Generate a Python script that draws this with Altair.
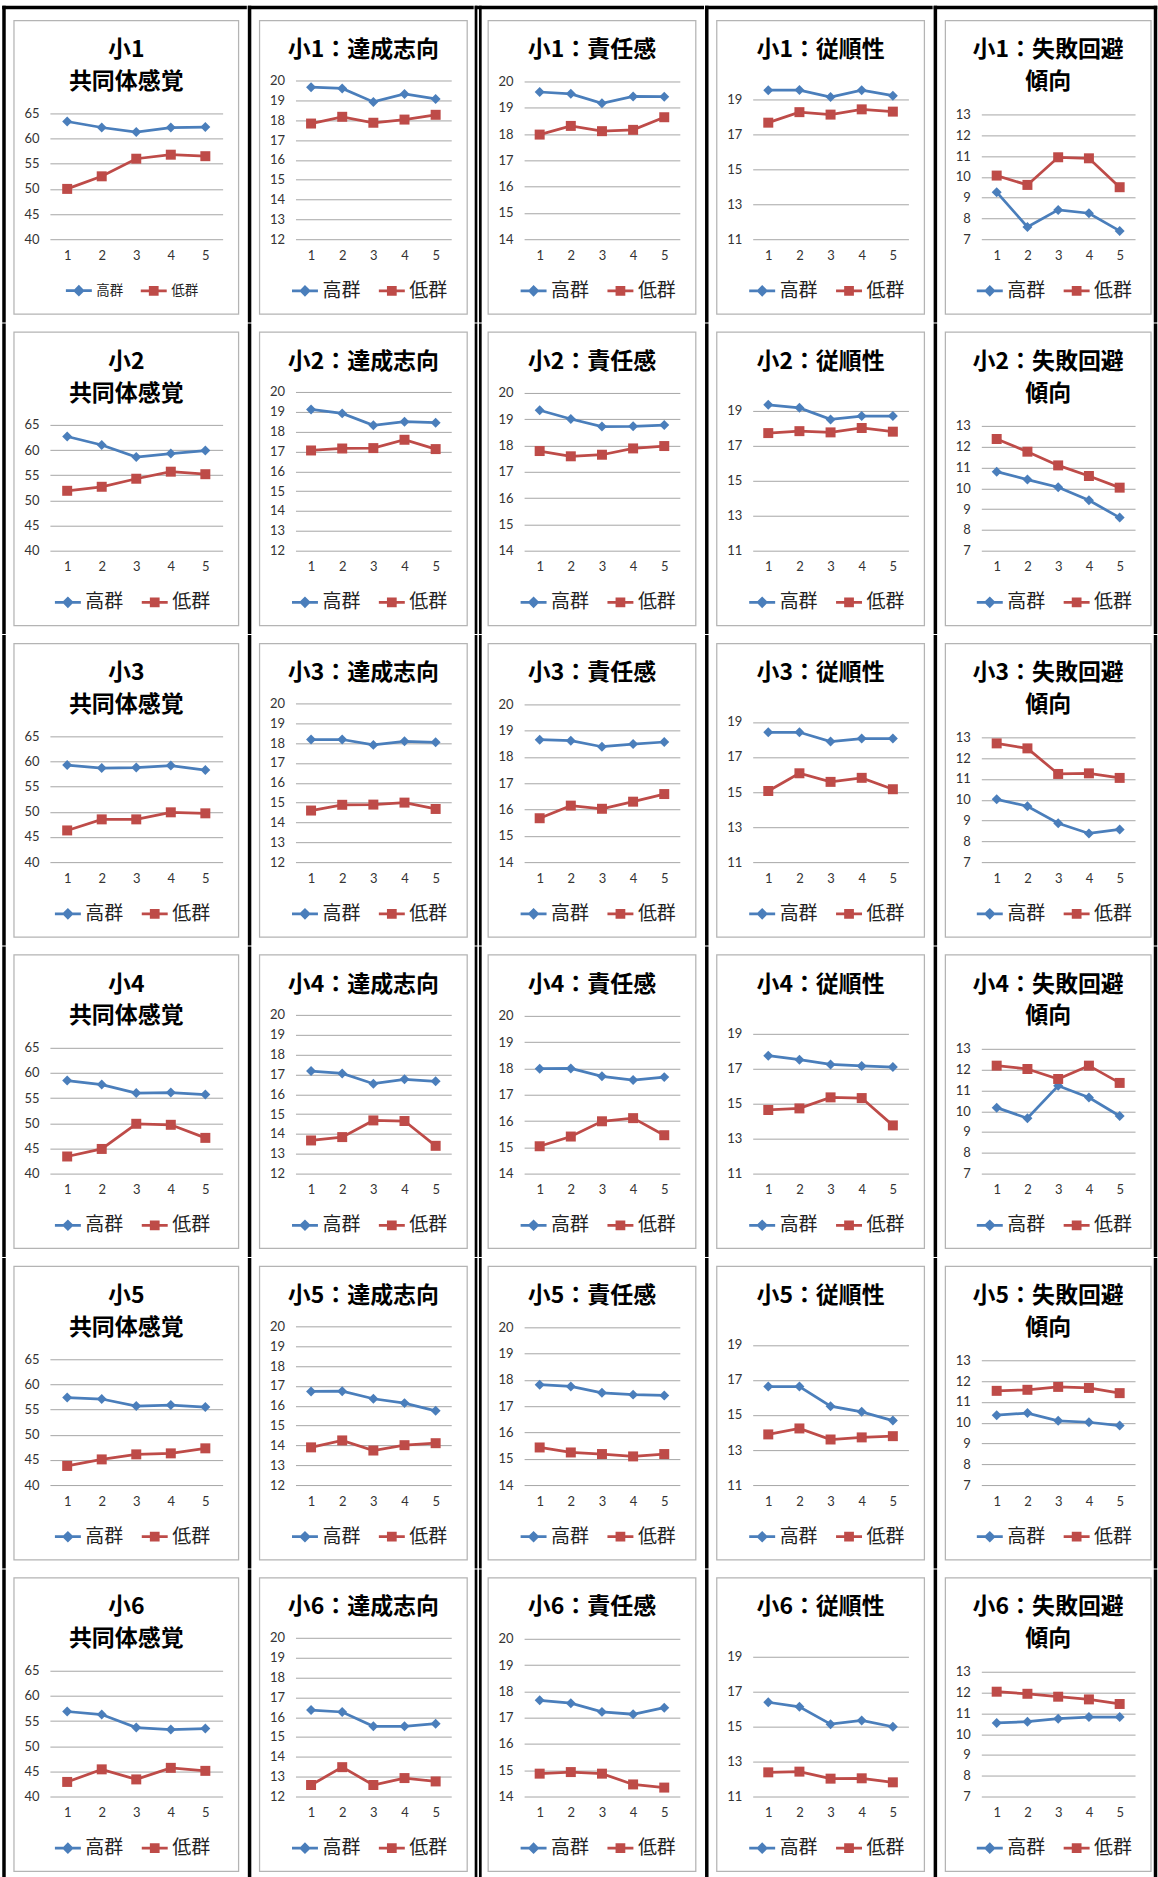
import altair as alt
import pandas as pd

GRADES = ["小1", "小2", "小3", "小4", "小5", "小6"]
WAVES = ["1", "2", "3", "4", "5"]
GROUPS = ["高群", "低群"]
COLORS = ["#4a7ebb", "#be4b48"]

# rows: 小1..小6, columns: waves 1..5
KYODO_HIGH = [
    [63.4, 62.2, 61.3, 62.2, 62.3],
    [62.7, 61.0, 58.6, 59.3, 59.9],
    [59.3, 58.7, 58.8, 59.2, 58.3],
    [58.5, 57.7, 56.0, 56.1, 55.7],
    [57.4, 57.1, 55.7, 55.9, 55.5],
    [56.9, 56.3, 53.7, 53.3, 53.5],
]
KYODO_LOW = [
    [50.0, 52.5, 56.0, 56.8, 56.5],
    [51.9, 52.7, 54.3, 55.7, 55.2],
    [46.3, 48.5, 48.5, 49.9, 49.7],
    [43.4, 44.9, 49.9, 49.7, 47.1],
    [43.8, 45.1, 46.1, 46.3, 47.3],
    [42.9, 45.4, 43.4, 45.7, 45.1],
]
TASSEI_HIGH = [
    [19.66, 19.60, 18.92, 19.32, 19.07],
    [19.12, 18.92, 18.32, 18.50, 18.45],
    [18.18, 18.18, 17.91, 18.09, 18.04],
    [17.17, 17.05, 16.53, 16.75, 16.65],
    [16.72, 16.73, 16.35, 16.13, 15.74],
    [16.36, 16.26, 15.54, 15.54, 15.67],
]
TASSEI_LOW = [
    [17.83, 18.17, 17.87, 18.03, 18.27],
    [17.05, 17.15, 17.17, 17.59, 17.12],
    [14.60, 14.89, 14.90, 15.00, 14.68],
    [13.67, 13.84, 14.68, 14.65, 13.40],
    [13.90, 14.25, 13.74, 14.01, 14.11],
    [12.58, 13.48, 12.58, 12.93, 12.76],
]
SEKININ_HIGH = [
    [19.60, 19.53, 19.17, 19.43, 19.42],
    [19.34, 19.01, 18.72, 18.73, 18.78],
    [18.66, 18.62, 18.39, 18.49, 18.57],
    [17.99, 18.00, 17.70, 17.56, 17.67],
    [17.82, 17.75, 17.51, 17.44, 17.41],
    [17.66, 17.55, 17.22, 17.13, 17.38],
]
SEKININ_LOW = [
    [17.98, 18.31, 18.11, 18.16, 18.64],
    [17.79, 17.59, 17.65, 17.89, 17.98],
    [15.67, 16.15, 16.03, 16.30, 16.59],
    [15.04, 15.41, 15.99, 16.11, 15.46],
    [15.43, 15.24, 15.18, 15.09, 15.18],
    [14.87, 14.93, 14.87, 14.46, 14.34],
]
JUJUN_HIGH = [
    [19.50, 19.51, 19.11, 19.50, 19.19],
    [19.32, 19.15, 18.49, 18.68, 18.68],
    [18.41, 18.41, 17.88, 18.05, 18.05],
    [17.73, 17.50, 17.23, 17.14, 17.08],
    [16.62, 16.62, 15.50, 15.18, 14.68],
    [16.38, 16.12, 15.13, 15.34, 14.98],
]
JUJUN_LOW = [
    [17.65, 18.25, 18.11, 18.41, 18.28],
    [17.71, 17.82, 17.75, 18.00, 17.79],
    [15.06, 16.07, 15.58, 15.81, 15.16],
    [14.63, 14.72, 15.35, 15.31, 13.75],
    [13.89, 14.23, 13.60, 13.72, 13.79],
    [12.38, 12.42, 12.02, 12.04, 11.81],
]
SHIPPAI_HIGH = [
    [9.26, 7.59, 8.41, 8.25, 7.40],
    [10.80, 10.42, 10.05, 9.42, 8.59],
    [10.02, 9.69, 8.87, 8.38, 8.57],
    [10.17, 9.66, 11.22, 10.66, 9.77],
    [10.36, 10.46, 10.09, 10.02, 9.86],
    [10.54, 10.60, 10.74, 10.82, 10.82],
]
SHIPPAI_LOW = [
    [10.06, 9.61, 10.94, 10.89, 9.50],
    [12.37, 11.76, 11.10, 10.59, 10.03],
    [12.71, 12.47, 11.24, 11.27, 11.05],
    [12.19, 12.03, 11.55, 12.19, 11.36],
    [11.53, 11.58, 11.72, 11.67, 11.42],
    [12.04, 11.94, 11.80, 11.67, 11.45],
]

# "top" is where the highest tick sits, measured from the frame top
MEASURES = [
    {"title": lambda g: [g, "共同体感覚"], "high": KYODO_HIGH, "low": KYODO_LOW,
     "domain": [40, 65], "ticks": [40, 45, 50, 55, 60, 65], "top": 93},
    {"title": lambda g: g + "：達成志向", "high": TASSEI_HIGH, "low": TASSEI_LOW,
     "domain": [12, 20], "ticks": list(range(12, 21)), "top": 60},
    {"title": lambda g: g + "：責任感", "high": SEKININ_HIGH, "low": SEKININ_LOW,
     "domain": [14, 20], "ticks": list(range(14, 21)), "top": 61},
    {"title": lambda g: g + "：従順性", "high": JUJUN_HIGH, "low": JUJUN_LOW,
     "domain": [11, 20], "ticks": [11, 13, 15, 17, 19], "top": 61},
    {"title": lambda g: [g + "：失敗回避", "傾向"], "high": SHIPPAI_HIGH, "low": SHIPPAI_LOW,
     "domain": [7, 13], "ticks": list(range(7, 14)), "top": 94},
]

# panel geometry (pixels)
FRAME_W = [225, 208, 208, 208, 206]
PLOT_TOP = 60          # plot area top, same in every panel so the rows line up
FRAME_H = 294
PLOT_BOTTOM = 219
INSET_L = 36
INSET_R = 16
GAP_L = 10
GAP_R = [10, 10, 10, 10, 4.5]
RULE_W = 3.5
ROW_EXT = 8.5
TOP_LINE = 13
TITLE_Y = 28          # centre of the first title line below the frame top
TITLE_LINE = 32
DOUBLE_RULE_COL = 2   # this column's left divider is drawn as a double line

CJK = "Noto Sans CJK JP"
FRAME_COLOR = "#b4b4b4"
GRID_COLOR = "#a6a6a6"

# legend symbols: a short line with the series marker on it
LEGEND_SHAPES = [
    "M-1,0H1M-0.3,0L0,-0.3L0.3,0L0,0.3Z",
    "M-1,0H1M-0.27,-0.27H0.27V0.27H-0.27Z",
]


def y_domain(m):
    """Stretch the domain upward so the tick range fills [m['top'], PLOT_BOTTOM]."""
    lo, hi = m["domain"]
    per_px = (hi - lo) / (PLOT_BOTTOM - m["top"])
    return [lo, hi + (m["top"] - PLOT_TOP) * per_px]


def bar(one, x1, x2, y1, y2):
    return alt.Chart(one).mark_rect(color="black").encode(
        x=alt.value(x1), x2=alt.value(x2), y=alt.value(y1), y2=alt.value(y2))


def cell(r, c):
    m = MEASURES[c]
    fw = FRAME_W[c]
    top = PLOT_TOP
    w = fw - INSET_L - INSET_R
    h = PLOT_BOTTOM - top

    df = pd.DataFrame({
        "wave": WAVES * 2,
        "group": [GROUPS[0]] * len(WAVES) + [GROUPS[1]] * len(WAVES),
        "value": m["high"][r] + m["low"][r],
    })
    one = pd.DataFrame({"k": [0]})

    x = alt.X("wave:O", scale=alt.Scale(type="point", padding=0.5),
              axis=alt.Axis(title=None, labelAngle=0, domain=False, ticks=False,
                            grid=False, labelPadding=10))
    y = alt.Y("value:Q", scale=alt.Scale(domain=y_domain(m), nice=False, zero=False),
              axis=alt.Axis(title=None, values=m["ticks"], domain=False, ticks=False,
                            grid=True, labelPadding=11))

    left = -INSET_L
    right = fw - INSET_L
    ext_top = TOP_LINE + RULE_W / 2 if r == 0 else ROW_EXT
    rule_x = left - GAP_L
    last = c == len(MEASURES) - 1
    y_top, y_bot = -top - ext_top, FRAME_H - top + ROW_EXT

    layers = []
    # chart-area border
    layers.append(alt.Chart(one).mark_rect(fillOpacity=0, stroke=FRAME_COLOR, strokeWidth=1.25).encode(
        x=alt.value(left), x2=alt.value(right),
        y=alt.value(-top), y2=alt.value(FRAME_H - top)))
    # column dividers
    if c == DOUBLE_RULE_COL:
        x_start = rule_x - 3.5
        layers.append(bar(one, rule_x - 3.5, rule_x - 0.8, y_top, y_bot))
        layers.append(bar(one, rule_x + 0.8, rule_x + 3.5, y_top, y_bot))
    else:
        x_start = rule_x - RULE_W / 2
        layers.append(bar(one, x_start, rule_x + RULE_W / 2, y_top, y_bot))
    if last:
        rx = right + GAP_R[c]
        layers.append(bar(one, rx - RULE_W / 2, rx + RULE_W / 2, y_top, y_bot))
    if r == 0:
        x_end = right + GAP_R[c] + (RULE_W / 2 if last else -RULE_W / 2)
        if c == DOUBLE_RULE_COL - 1:
            x_end = right + GAP_R[c] - 3.5
        layers.append(bar(one, x_start, x_end,
                          -top - TOP_LINE - RULE_W / 2, -top - TOP_LINE + RULE_W / 2))

    # series
    shapes = ["diamond", "square"]
    for g, col, shp in zip(GROUPS, COLORS, shapes):
        base = alt.Chart(df).transform_filter(alt.datum.group == g)
        layers.append(base.mark_line(color=col, strokeWidth=2.75).encode(x=x, y=y))
        layers.append(base.mark_point(shape=shp, filled=True, size=100, color=col, opacity=1).encode(x=x, y=y))

    # legend
    small = (r == 0 and c == 0)
    lab_size = 13.5 if small else 19
    leg_w = 2 * (26 + 3 + 2 * lab_size) + 12
    leg = alt.Legend(
        title=None, orient="none", direction="horizontal",
        legendX=left + fw / 2 - leg_w / 2, legendY=256 - top,
        symbolSize=676, symbolStrokeWidth=2.75, symbolOpacity=1,
        labelFont=CJK, labelFontSize=lab_size, labelColor="#222222",
        labelOffset=3, columnPadding=12, padding=0,
    )
    layers.append(alt.Chart(df).mark_point(opacity=0, filled=True).encode(
        x=x, y=y,
        fill=alt.Fill("group:N", scale=alt.Scale(domain=GROUPS, range=COLORS), legend=leg),
        stroke=alt.Stroke("group:N", scale=alt.Scale(domain=GROUPS, range=COLORS), legend=leg),
        shape=alt.Shape("group:N", scale=alt.Scale(domain=GROUPS, range=LEGEND_SHAPES), legend=leg),
    ))

    text = m["title"](GRADES[r])
    n_lines = len(text) if isinstance(text, list) else 1
    # the title hangs below the top of the column divider; lines stack upward from the offset
    title = alt.TitleParams(
        text=text, offset=-(ext_top + TITLE_Y + 13.6 + TITLE_LINE * (n_lines - 1)),
        dx=(INSET_R - INSET_L) / 2,
        anchor="middle", frame="group", lineHeight=TITLE_LINE,
        font=CJK, fontSize=23, fontWeight="bold", color="black",
    )
    return alt.layer(*layers).properties(width=w, height=h, title=title)


cells = [cell(r, c) for r in range(len(GRADES)) for c in range(len(MEASURES))]

chart = (
    alt.concat(*cells, columns=len(MEASURES), spacing=0)
    .resolve_legend(fill="independent", stroke="independent", shape="independent")
    .properties(padding={"left": 2, "top": 4, "right": 0, "bottom": 0}, background="white")
    .configure_view(strokeWidth=0)
    .configure_axis(labelFont="Lato", labelFontSize=13, labelColor="#333333",
                    gridColor=GRID_COLOR, gridWidth=1)
)

chart.save("out.html", embed_options={"renderer": "svg", "actions": False})
